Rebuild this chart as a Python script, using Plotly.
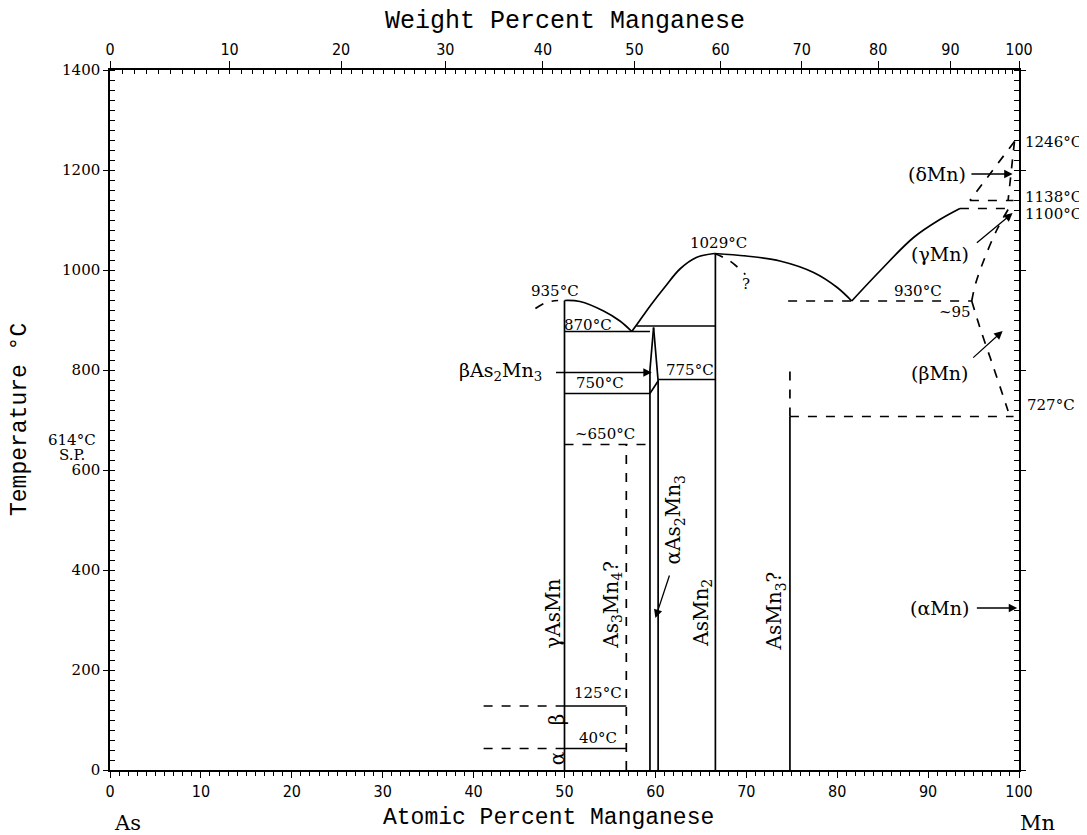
import plotly.graph_objects as go

# ---- phase boundaries (x = at.% Mn, t = temperature in deg C)
liq_left_x = [46.8, 48.0, 49.3]
liq_left_t = [923, 935, 939]
liq_asmn_x = [50.0, 51.7, 54.3, 56.1, 57.4]
liq_asmn_t = [939, 937, 918, 898, 877]
liq_asmn2_l_x = [57.4, 58.2, 59.5, 61.0, 62.7, 64.5, 66.5]
liq_asmn2_l_t = [877, 897, 930, 965, 1002, 1025, 1033]
liq_asmn2_r_x = [66.5, 70.0, 73.7, 77.4, 80.0, 81.6]
liq_asmn2_r_t = [1033, 1028, 1018, 995, 965, 938]
liq_mn_x = [81.6, 84.7, 88.4, 91.3, 93.5]
liq_mn_t = [938, 998, 1065, 1101, 1123]
liq_q_x = [66.5, 68.2, 69.9]
liq_q_t = [1033, 1018, 991]

# compounds (vertical lines)
asmn_x = [50.0, 50.0]
asmn_t = [0, 939]
as3mn4_x = [56.8, 56.8]
as3mn4_t = [0, 651]
as2mn3_l_x = [59.4, 59.4, 59.8]
as2mn3_l_t = [0, 800, 885]
as2mn3_r_x = [60.3, 60.3, 59.8]
as2mn3_r_t = [0, 778, 885]
asmn2_x = [66.6, 66.6]
asmn2_t = [0, 1033]
asmn3_x = [74.8, 74.8]
asmn3_t = [0, 707]
asmn3_q_t = [707, 815]

# isotherms: x extent and drawn temperature
iso_870_x, iso_870_t = [50.0, 59.4], 877
iso_885_x, iso_885_t = [57.9, 66.6], 888
iso_775_x, iso_775_t = [60.3, 66.6], 781
iso_750_x = [50.0, 59.4, 60.3]
iso_750_t = [753, 753, 778]
iso_650_x, iso_650_t = [50.0, 59.4], 651
iso_125_sol_x, iso_125_dash_x, iso_125_t = [50.0, 56.8], [41.1, 50.0], 128
iso_40_sol_x, iso_40_dash_x, iso_40_t = [50.0, 56.8], [41.1, 50.0], 43
iso_930_x, iso_930_t = [74.6, 94.8], 938
iso_727_x, iso_727_t = [74.8, 99.4], 707
iso_1100_x, iso_1100_t = [93.5, 99.4], 1123
iso_1138_x, iso_1138_t = [94.6, 99.4], 1139

# Mn-rich solid solutions
delta_l_x = [99.5, 94.6]
delta_l_t = [1257, 1139]
delta_r_x = [99.5, 98.8]
delta_r_t = [1257, 1139]
gamma_x = [98.8, 97.5, 96.1, 95.2, 94.8]
gamma_t = [1121, 1078, 1018, 971, 938]
beta_x = [94.8, 95.7, 97.2, 98.8]
beta_t = [938, 885, 805, 718]

# text labels inside the frame
lab_text = ["935°C", "870°C", "1029°C", "?", "775°C", "750°C", "~650°C", "125°C", "40°C",
            "930°C", "~95"]
lab_x = [49.0, 52.6, 66.9, 70.0, 63.8, 53.9, 54.5, 53.7, 53.7, 88.9, 93.0]
lab_t = [958, 890, 1054, 972, 800, 774, 672, 154, 64, 958, 916]

# text labels outside the frame (same units)
out_text = ["1246°C", "1138°C", "1100°C", "727°C", "614°C", "S.P."]
out_x = [103.8, 103.8, 103.8, 103.5, -4.2, -4.2]
out_t = [1256, 1146, 1112, 730, 660, 630]

# rotated phase names
rot_text = ["γAsMn", "As<sub>3</sub>Mn<sub>4</sub>?", "αAs<sub>2</sub>Mn<sub>3</sub>",
            "AsMn<sub>2</sub>", "AsMn<sub>3</sub>?", "β", "α"]
rot_x = [48.7, 55.2, 62.1, 65.1, 73.2, 49.2, 49.2]
rot_t = [312, 330, 500, 314, 318, 102, 24]

# arrowed labels: text position, arrow tail and head
arr_text = ["βAs<sub>2</sub>Mn<sub>3</sub>", "(δMn)", "(γMn)", "(βMn)", "(αMn)"]
arr_lx = [43.0, 91.0, 91.3, 91.3, 91.3]
arr_lt = [797, 1192, 1032, 794, 324]
arr_tail_x = [48.9, 94.6, 95.2, 94.8, 95.2]
arr_tail_t = [795, 1192, 1052, 822, 324]
arr_head_x = [59.6, 99.3, 99.3, 98.2, 99.8]
arr_head_t = [795, 1192, 1114, 878, 324]

# element names below the axis
elem_text = ["As", "Mn"]
elem_x = [1.9, 102.0]
elem_t = [-106, -106]

# top axis: weight percent Mn
wt_ticks = [0, 10, 20, 30, 40, 50, 60, 70, 80, 90, 100]
M_AS, M_MN = 74.9216, 54.938

X_MAX, T_MAX = 100.0, 1400.0


def wt_to_at(w):
    n_mn = w / M_MN
    n_as = (100 - w) / M_AS
    return 100 * n_mn / (n_mn + n_as)


SERIF = "DejaVu Serif, Liberation Serif, serif"
NARROW = "DejaVu Sans Condensed, Liberation Sans Narrow, Liberation Sans, sans-serif"
MONO = "Liberation Mono, DejaVu Sans Mono, monospace"

fig = go.Figure()


def line(x, t, dash="solid", shape="linear"):
    fig.add_trace(go.Scatter(x=x, y=t, mode="lines", showlegend=False, hoverinfo="skip",
                             line=dict(color="black", width=1.7, dash=dash, shape=shape)))


line(liq_left_x, liq_left_t, "dash", "spline")
line(liq_asmn_x, liq_asmn_t, shape="spline")
line(liq_asmn2_l_x, liq_asmn2_l_t, shape="spline")
line(liq_asmn2_r_x, liq_asmn2_r_t, shape="spline")
line(liq_mn_x, liq_mn_t, shape="spline")
line(liq_q_x, liq_q_t, "dash", "spline")

line(asmn_x, asmn_t)
line(as3mn4_x, as3mn4_t, "dash")
line(as2mn3_l_x, as2mn3_l_t)
line(as2mn3_r_x, as2mn3_r_t)
line(asmn2_x, asmn2_t)
line(asmn3_x, asmn3_t)
line(asmn3_x, asmn3_q_t, "dash")

line(iso_870_x, [iso_870_t] * 2)
line(iso_885_x, [iso_885_t] * 2)
line(iso_775_x, [iso_775_t] * 2)
line(iso_750_x, iso_750_t)
line(iso_650_x, [iso_650_t] * 2, "dash")
line(iso_125_sol_x, [iso_125_t] * 2)
line(iso_125_dash_x, [iso_125_t] * 2, "dash")
line(iso_40_sol_x, [iso_40_t] * 2)
line(iso_40_dash_x, [iso_40_t] * 2, "dash")
line(iso_930_x, [iso_930_t] * 2, "dash")
line(iso_727_x, [iso_727_t] * 2, "dash")
line(iso_1100_x, [iso_1100_t] * 2, "dash")
line(iso_1138_x, [iso_1138_t] * 2, "dash")

line(delta_l_x, delta_l_t, "dash")
line(delta_r_x, delta_r_t, "dash")
line(gamma_x, gamma_t, "dash", "spline")
line(beta_x, beta_t, "dash", "spline")

for txt, x, t in zip(lab_text, lab_x, lab_t):
    fig.add_annotation(x=x, y=t, text=txt, showarrow=False,
                       font=dict(family=SERIF, size=15, color="black"))

# labels outside the axes need paper coordinates to stay visible
for txt, x, t in zip(out_text, out_x, out_t):
    fig.add_annotation(xref="paper", yref="paper", x=x / X_MAX, y=t / T_MAX, text=txt,
                       xanchor="center", yanchor="middle", showarrow=False,
                       font=dict(family=SERIF, size=15, color="black"))

for txt, x, t in zip(elem_text, elem_x, elem_t):
    fig.add_annotation(xref="paper", yref="paper", x=x / X_MAX, y=t / T_MAX, text=txt,
                       xanchor="center", yanchor="middle", showarrow=False,
                       font=dict(family=SERIF, size=21, color="black"))

for txt, x, t in zip(rot_text, rot_x, rot_t):
    fig.add_annotation(x=x, y=t, text=txt, showarrow=False, textangle=-90,
                       font=dict(family=SERIF, size=20, color="black"))

for txt, lx, lt, tx, tt, hx, ht in zip(arr_text, arr_lx, arr_lt, arr_tail_x, arr_tail_t,
                                        arr_head_x, arr_head_t):
    fig.add_annotation(x=lx, y=lt, text=txt, showarrow=False,
                       font=dict(family=SERIF, size=19, color="black"))
    fig.add_annotation(x=hx, y=ht, ax=tx, ay=tt, axref="x", ayref="y", text="",
                       showarrow=True, arrowhead=2, arrowsize=1.3, arrowwidth=1.3,
                       arrowcolor="black")

# arrow for alpha As2Mn3 label
fig.add_annotation(x=60.0, y=304, ax=61.6, ay=392, axref="x", ayref="y", text="",
                   showarrow=True, arrowhead=2, arrowsize=1.3, arrowwidth=1.3,
                   arrowcolor="black")

# axis titles
fig.add_annotation(xref="paper", yref="paper", x=0.482, y=-0.069, xanchor="center",
                   yanchor="middle", text="Atomic Percent Manganese", showarrow=False,
                   font=dict(family=MONO, size=23, color="black"))
fig.add_annotation(xref="paper", yref="paper", x=0.5, y=1.069, xanchor="center",
                   yanchor="middle", text="Weight Percent Manganese", showarrow=False,
                   font=dict(family=MONO, size=25, color="black"))
fig.add_annotation(xref="paper", yref="paper", x=-0.099, y=0.5, xanchor="center",
                   textangle=-90, text="Temperature °C", showarrow=False,
                   font=dict(family=MONO, size=23, color="black"))

# the page body adds 8 px, so the figure is 8 px smaller and margins shifted
fig.update_layout(
    width=1079, height=827,
    margin=dict(l=102, r=68, t=62, b=65),
    paper_bgcolor="white", plot_bgcolor="white",
    showlegend=False,
    xaxis=dict(range=[0, X_MAX], tickvals=list(range(0, 101, 10)), showgrid=False,
               zeroline=False, showline=True, linecolor="black", linewidth=1.5,
               ticks="outside", ticklen=6, tickcolor="black",
               tickfont=dict(family=NARROW, size=16, color="black"),
               minor=dict(dtick=1, ticks="outside", ticklen=4, tickcolor="black")),
    xaxis2=dict(range=[0, X_MAX], overlaying="x", side="top", showgrid=False, zeroline=False,
                showline=True, linecolor="black", linewidth=1.5, ticks="outside", ticklen=7,
                tickcolor="black", tickmode="array",
                tickvals=[wt_to_at(w) for w in wt_ticks], ticktext=[str(w) for w in wt_ticks],
                tickfont=dict(family=NARROW, size=16, color="black"),
                minor=dict(tickmode="array", tickvals=[wt_to_at(w) for w in range(1, 100)],
                           ticks="inside", ticklen=4, tickcolor="black")),
    yaxis=dict(range=[0, T_MAX], tickvals=list(range(0, 1401, 200)), showgrid=False,
               zeroline=False, showline=True, linecolor="black", linewidth=1.5,
               mirror="allticks", ticks="outside", ticklen=5, tickcolor="black",
               tickfont=dict(family=SERIF, size=15, color="black"),
               minor=dict(dtick=20, ticks="inside", ticklen=5, tickcolor="black")),
)

# empty trace so the top axis is drawn
fig.add_trace(go.Scatter(x=[None], y=[None], xaxis="x2", showlegend=False, hoverinfo="skip"))

fig.write_html("out.html")
